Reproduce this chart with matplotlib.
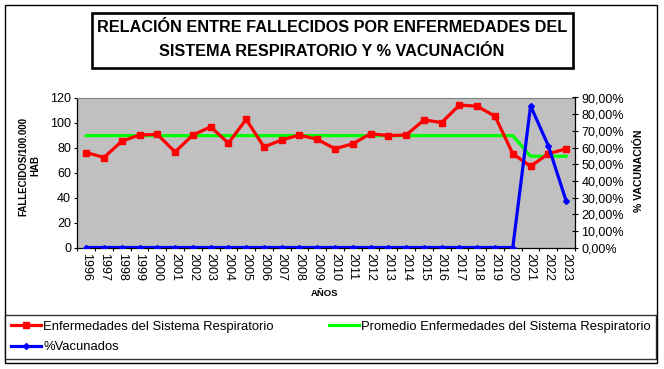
import matplotlib
matplotlib.use("Agg")
import matplotlib.pyplot as plt
from matplotlib.patches import Rectangle
from matplotlib.ticker import FuncFormatter

plt.rcParams['font.family'] = ['Liberation Sans', 'DejaVu Sans']

# data
years = ['1996', '1997', '1998', '1999', '2000', '2001', '2002', '2003', '2004', '2005',
         '2006', '2007', '2008', '2009', '2010', '2011', '2012', '2013', '2014', '2015',
         '2016', '2017', '2018', '2019', '2020', '2021', '2022', '2023']
fallecidos = [76, 72, 85, 90, 90.5, 76.5, 90, 96.5, 83.5, 102.5,
              80.5, 86, 90, 86.5, 79, 83, 91, 89.5, 90, 102,
              100, 114, 113, 105, 75, 65, 75, 79]
promedio = [89.5, 89.5, 89.5, 89.5, 89.5, 89.5, 89.5, 89.5, 89.5, 89.5,
            89.5, 89.5, 89.5, 89.5, 89.5, 89.5, 89.5, 89.5, 89.5, 89.5,
            89.5, 89.5, 89.5, 89.5, 89.5, 73, 73, 73]
vacunados = [0, 0, 0, 0, 0, 0, 0, 0, 0, 0,
             0, 0, 0, 0, 0, 0, 0, 0, 0, 0,
             0, 0, 0, 0, 0, 0.85, 0.61, 0.28]

W, H = 664, 369
fig = plt.figure(figsize=(W / 100, H / 100), dpi=100)

# plot area in pixels: x 77..575, y 97.5..247.5
ax = fig.add_axes([77.3 / W, (H - 247.5) / H, (575 - 77.3) / W, 150 / H])
ax.set_facecolor('#C0C0C0')
x = list(range(len(years)))

l_red, = ax.plot(x, fallecidos, color='#FF0000', lw=2.3, marker='s', ms=4.8,
                 label='Enfermedades del Sistema Respiratorio', zorder=3)
l_green, = ax.plot(x, promedio, color='#00FF00', lw=2.3,
                   label='Promedio Enfermedades del Sistema Respiratorio', zorder=2)

ax.set_xlim(-0.5, len(years) - 0.5)
ax.set_ylim(0, 120)
ax.set_yticks(range(0, 121, 20))
ax.set_xticks(x)
ax.set_xticklabels(years, rotation=-90, fontsize=9)
ax.set_xticks([i - 0.5 for i in range(len(years) + 1)], minor=True)
ax.tick_params(axis='x', which='major', length=0, pad=4)
ax.tick_params(axis='x', which='minor', length=2.5, direction='out', width=0.8)
ax.tick_params(axis='y', length=2.5, direction='out', width=0.8, labelsize=9, pad=2)
ax.spines['top'].set_color('#808080')
ax.spines['right'].set_visible(False)
for s in ['left', 'bottom']:
    ax.spines[s].set_color('black')
    ax.spines[s].set_linewidth(0.9)

ax2 = ax.twinx()
l_blue, = ax2.plot(x, vacunados, color='#0000FF', lw=2.3, marker='D', ms=3,
                   label='%Vacunados', zorder=4)
ax2.set_ylim(0, 0.9)
ax2.set_yticks([i / 10 for i in range(10)])
ax2.yaxis.set_major_formatter(FuncFormatter(lambda v, p: f"{v * 100:.2f}%".replace('.', ',')))
ax2.tick_params(axis='y', length=5, direction='inout', width=0.8, labelsize=9, pad=2)
for s in ['top', 'left', 'bottom']:
    ax2.spines[s].set_visible(False)
ax2.spines['right'].set_color('black')
ax2.spines['right'].set_linewidth(0.9)

# axis titles
fig.text(29.5 / W, (H - 166) / H, 'FALLECIDOS/100.000\nHAB', rotation=90, fontsize=7,
         fontweight='bold', ha='center', va='center', multialignment='center')
fig.text(639 / W, (H - 170.5) / H, '% VACUNACIÓN', rotation=90, fontsize=7.6,
         fontweight='bold', ha='center', va='center')
fig.text(325 / W, (H - 294) / H, 'AÑOS', fontsize=6.8, fontweight='bold',
         ha='center', va='center')

# title box
fig.add_artist(Rectangle((91.7 / W, (H - 68.3) / H), (572.7 - 91.7) / W, (68.3 - 12.7) / H,
                         transform=fig.transFigure, fill=False, ec='black', lw=1.9))
fig.text(332 / W, (H - 28) / H, 'RELACIÓN ENTRE FALLECIDOS POR ENFERMEDADES DEL',
         fontsize=11.7, fontweight='bold', ha='center', va='center')
fig.text(332 / W, (H - 51) / H, 'SISTEMA RESPIRATORIO Y % VACUNACIÓN',
         fontsize=11.7, fontweight='bold', ha='center', va='center')

# outer chart border
fig.add_artist(Rectangle((5.3 / W, (H - 362.7) / H), (657.3 - 5.3) / W, (362.7 - 5.3) / H,
                         transform=fig.transFigure, fill=False, ec='black', lw=1))

# legend
leg = fig.legend(handles=[l_red, l_blue, l_green], ncol=2, mode='expand',
                 loc='lower left',
                 bbox_to_anchor=(5.3 / W, (H - 359.3) / H, (656 - 5.3) / W, (359.3 - 315) / H),
                 bbox_transform=fig.transFigure, borderaxespad=0, borderpad=0.45,
                 handlelength=2.3, handletextpad=0.15, labelspacing=0.65,
                 fontsize=9.4, fancybox=False, frameon=True)
leg.get_frame().set_edgecolor('black')
leg.get_frame().set_linewidth(1)

fig.savefig('out.png', dpi=100)
